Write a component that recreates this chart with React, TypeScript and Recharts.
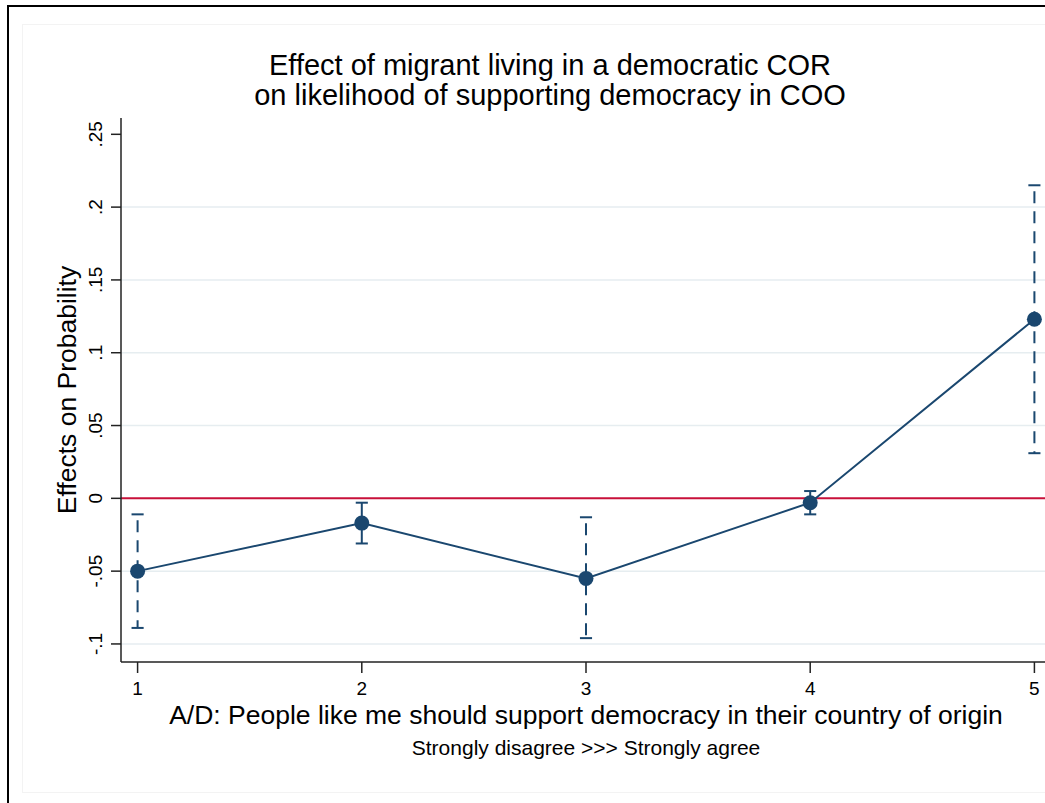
import {
  ComposedChart,
  Line,
  XAxis,
  YAxis,
  ReferenceLine,
  Label,
} from "recharts";

// Marginal effect at each answer level, with 95% CI bounds
const answerLevels = [1, 2, 3, 4, 5];
const effects = [-0.05, -0.017, -0.055, -0.003, 0.123];
const ciLower = [-0.089, -0.031, -0.096, -0.011, 0.031];
const ciUpper = [-0.011, -0.003, -0.013, 0.005, 0.215];

const yTicks = [-0.1, -0.05, 0, 0.05, 0.1, 0.15, 0.2, 0.25];
const gridValues = [-0.1, -0.05, 0.05, 0.1, 0.15, 0.2];

const NAVY = "#1a476f";
const CRANBERRY = "#c8103a";
const GRID = "#e6edf0";
const AXIS = "#222";
const FONT = "'Liberation Sans', Arial, Helvetica, sans-serif";
const CAP = 0.027;

const data = answerLevels.map((x, i) => ({
  x,
  effect: effects[i],
  lo: ciLower[i],
  hi: ciUpper[i],
}));

// Stata-style labels: ".25", "-.1", "0"
const fmt = (v: number) => {
  if (v === 0) return "0";
  const s = String(Math.round(v * 100) / 100);
  return s.replace("0.", ".");
};

const YTick = ({ x, y, payload }: any) => (
  <text
    transform={`translate(${x - 7.5},${y}) rotate(-90)`}
    textAnchor="middle"
    fontSize={19}
    fontFamily={FONT}
    fill="#000"
  >
    {fmt(payload.value)}
  </text>
);

const XTick = ({ x, y, payload }: any) => (
  <text
    x={x}
    y={y + 20}
    textAnchor="middle"
    fontSize={19}
    fontFamily={FONT}
    fill="#000"
  >
    {payload.value}
  </text>
);

const App = () => {
  return (
    <div
      style={{
        position: "absolute",
        left: 0,
        top: 0,
        width: 1045,
        height: 803,
        overflow: "hidden",
        background: "#fff",
      }}
    >
      {/* outer graph frame */}
      <div
        style={{
          position: "absolute",
          left: 7,
          top: 5,
          width: 1200,
          height: 900,
          borderTop: "2px solid #000",
          borderLeft: "2px solid #000",
        }}
      />
      <div
        style={{
          position: "absolute",
          left: 22,
          top: 24,
          width: 1200,
          height: 767,
          border: "1px solid #f3f3f3",
        }}
      />
      <div
        style={{
          position: "absolute",
          left: 0,
          top: 50,
          width: 1100,
          textAlign: "center",
          fontFamily: FONT,
          fontSize: 29,
          lineHeight: "30px",
          color: "#000",
        }}
      >
        <div>Effect of migrant living in a democratic COR</div>
        <div>on likelihood of supporting democracy in COO</div>
      </div>
      <div style={{ position: "absolute", left: 0, top: 0 }}>
        <ComposedChart
          width={1100}
          height={803}
          data={data}
          margin={{ top: 118, right: 49, bottom: 0, left: 0 }}
        >
          <XAxis
            dataKey="x"
            type="number"
            domain={[0.926, 5.074]}
            ticks={answerLevels}
            allowDataOverflow
            height={141}
            tickSize={11}
            tickMargin={2}
            axisLine={{ stroke: AXIS, strokeWidth: 1.5 }}
            tickLine={{ stroke: AXIS, strokeWidth: 1.5 }}
            tick={<XTick />}
          >
            <Label
              content={({ viewBox }: any) => {
                const cx = viewBox.x + viewBox.width / 2;
                return (
                  <g fontFamily={FONT} fill="#000" textAnchor="middle">
                    <text x={cx} y={viewBox.y + 62} fontSize={26.5}>
                      A/D: People like me should support democracy in their
                      country of origin
                    </text>
                    <text x={cx} y={viewBox.y + 93} fontSize={21}>
                      {"Strongly disagree >>> Strongly agree"}
                    </text>
                  </g>
                );
              }}
            />
          </XAxis>
          <YAxis
            type="number"
            domain={[-0.1124, 0.2612]}
            ticks={yTicks}
            allowDataOverflow
            width={121}
            tickSize={10}
            tickMargin={2}
            axisLine={{ stroke: AXIS, strokeWidth: 1.5 }}
            tickLine={{ stroke: AXIS, strokeWidth: 1.5 }}
            tick={<YTick />}
          >
            <Label
              content={({ viewBox }: any) => (
                <text
                  transform={`translate(76,${
                    viewBox.y + viewBox.height / 2
                  }) rotate(-90)`}
                  textAnchor="middle"
                  fontSize={26.5}
                  fontFamily={FONT}
                  fill="#000"
                >
                  Effects on Probability
                </text>
              )}
            />
          </YAxis>

          {gridValues.map((v) => (
            <ReferenceLine
              key={`grid-${v}`}
              y={v}
              stroke={GRID}
              strokeWidth={1.5}
            />
          ))}
          <ReferenceLine y={0} stroke={CRANBERRY} strokeWidth={2} />

          {/* confidence intervals: long ones dashed, short ones solid */}
          {data.map((d) => (
            <ReferenceLine
              key={`ci-${d.x}`}
              segment={[
                { x: d.x, y: d.hi },
                { x: d.x, y: d.lo },
              ]}
              stroke={NAVY}
              strokeWidth={2}
              strokeDasharray={d.hi - d.lo > 0.05 ? "12 8" : undefined}
              strokeDashoffset={-6}
            />
          ))}
          {data.map((d) => (
            <ReferenceLine
              key={`cap-hi-${d.x}`}
              segment={[
                { x: d.x - CAP, y: d.hi },
                { x: d.x + CAP, y: d.hi },
              ]}
              stroke={NAVY}
              strokeWidth={2}
            />
          ))}
          {data.map((d) => (
            <ReferenceLine
              key={`cap-lo-${d.x}`}
              segment={[
                { x: d.x - CAP, y: d.lo },
                { x: d.x + CAP, y: d.lo },
              ]}
              stroke={NAVY}
              strokeWidth={2}
            />
          ))}

          <Line
            dataKey="effect"
            stroke={NAVY}
            strokeWidth={2}
            dot={{ r: 7.5, fill: NAVY, stroke: NAVY, strokeWidth: 0 }}
            activeDot={false}
            isAnimationActive={false}
          />
        </ComposedChart>
      </div>
    </div>
  );
};

export default App;
